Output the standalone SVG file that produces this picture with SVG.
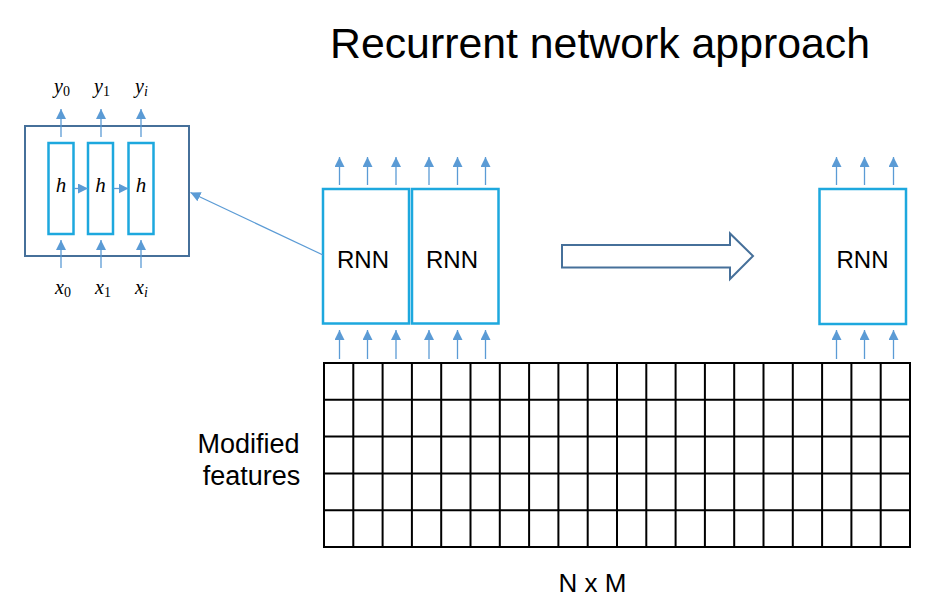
<svg xmlns="http://www.w3.org/2000/svg" width="937" height="607" viewBox="0 0 937 607">
<defs>
<style>
.sans{font-family:"Liberation Sans",Arial,sans-serif;fill:#000}
.math{font-family:"Liberation Serif","Times New Roman",serif;font-style:italic;fill:#000}
.sub{font-family:"Liberation Serif","Times New Roman",serif;font-style:normal;font-size:14px}
.subi{font-family:"Liberation Serif","Times New Roman",serif;font-style:italic;font-size:14px}
.rnn{fill:#fff;stroke:#1DA8DE;stroke-width:2.5}
.cell{fill:#fff;stroke:#1DA8DE;stroke-width:2.5}
.outer{fill:#fff;stroke:#46709A;stroke-width:2}
.arr{stroke:#5B9BD5;stroke-width:1.3;fill:none;marker-end:url(#ah)}
.grid{stroke:#000;stroke-width:2;fill:none}
</style>
<marker id="ah" markerUnits="userSpaceOnUse" markerWidth="10" markerHeight="10" refX="9" refY="4.5" orient="auto" viewBox="0 0 9 9">
<path d="M0,0 L9,4.5 L0,9 z" fill="#5B9BD5"/>
</marker>
</defs>
<rect width="937" height="607" fill="#fff"/>

<text class="sans" x="330" y="58" font-size="42" textLength="540" lengthAdjust="spacingAndGlyphs">Recurrent network approach</text>

<g id="detail-box">
<rect class="outer" x="25" y="126" width="164" height="130"/>
<rect class="cell" x="48.5" y="143" width="25" height="91"/>
<rect class="cell" x="88" y="143" width="25" height="91"/>
<rect class="cell" x="128.5" y="143" width="25" height="91"/>
<text class="math" x="61" y="192" font-size="21" text-anchor="middle">h</text>
<text class="math" x="100.5" y="192" font-size="21" text-anchor="middle">h</text>
<text class="math" x="141" y="192" font-size="21" text-anchor="middle">h</text>
<text class="math" x="54" y="93" font-size="20">y<tspan class="sub" dy="3">0</tspan></text>
<text class="math" x="94" y="93" font-size="20">y<tspan class="sub" dy="3">1</tspan></text>
<text class="math" x="135" y="93" font-size="20">y<tspan class="subi" dy="3">i</tspan></text>
<text class="math" x="55" y="294" font-size="20">x<tspan class="sub" dy="3">0</tspan></text>
<text class="math" x="95" y="294" font-size="20">x<tspan class="sub" dy="3">1</tspan></text>
<text class="math" x="135" y="294" font-size="20">x<tspan class="subi" dy="3">i</tspan></text>
</g>

<g id="rnn-1">
<rect class="rnn" x="323" y="189" width="86" height="134.5"/>
<text class="sans" x="363" y="267.5" font-size="24" text-anchor="middle">RNN</text>
</g>
<g id="rnn-2">
<rect class="rnn" x="412" y="189" width="86.5" height="134.5"/>
<text class="sans" x="452" y="267.5" font-size="24" text-anchor="middle">RNN</text>
</g>
<g id="rnn-3">
<rect class="rnn" x="819.5" y="189" width="86.5" height="135"/>
<text class="sans" x="862.5" y="267.5" font-size="24" text-anchor="middle">RNN</text>
</g>

<g id="big-arrow">
<polygon points="562,245 730,245 730,233.5 753,256 730,279 730,267.5 562,267.5" fill="#fff" stroke="#46709A" stroke-width="2" stroke-linejoin="miter"/>
</g>

<g id="feature-grid">
<rect class="grid" x="324" y="363" width="586" height="184"/>
<path class="grid" d="M353.3,363V547M382.6,363V547M411.9,363V547M441.2,363V547M470.5,363V547M499.8,363V547M529.1,363V547M558.4,363V547M587.7,363V547M617,363V547M646.3,363V547M675.6,363V547M704.9,363V547M734.2,363V547M763.5,363V547M792.8,363V547M822.1,363V547M851.4,363V547M880.7,363V547"/>
<path class="grid" d="M324,399.8H910M324,436.6H910M324,473.4H910M324,510.2H910"/>
<text class="sans" x="248.5" y="453" font-size="27" text-anchor="middle">Modified</text>
<text class="sans" x="251.5" y="485" font-size="27" text-anchor="middle">features</text>
<text class="sans" x="592.5" y="591.5" font-size="26" text-anchor="middle">N x M</text>
</g>

<g id="connectors">
<line class="arr" x1="323" y1="255" x2="190.5" y2="192.5"/>
<line class="arr" x1="61" y1="137" x2="61" y2="109"/>
<line class="arr" x1="101" y1="137" x2="101" y2="109"/>
<line class="arr" x1="141" y1="137" x2="141" y2="109"/>
<line class="arr" x1="61" y1="268" x2="61" y2="240"/>
<line class="arr" x1="101" y1="268" x2="101" y2="240"/>
<line class="arr" x1="141" y1="268" x2="141" y2="240"/>
<line class="arr" x1="74" y1="188.5" x2="88" y2="188.5"/>
<line class="arr" x1="113.5" y1="188.5" x2="128.5" y2="188.5"/>
<line class="arr" x1="339.5" y1="185" x2="339.5" y2="157"/>
<line class="arr" x1="367.5" y1="185" x2="367.5" y2="157"/>
<line class="arr" x1="396" y1="185" x2="396" y2="157"/>
<line class="arr" x1="429" y1="185" x2="429" y2="157"/>
<line class="arr" x1="457.5" y1="185" x2="457.5" y2="157"/>
<line class="arr" x1="485.5" y1="185" x2="485.5" y2="157"/>
<line class="arr" x1="836.5" y1="185" x2="836.5" y2="157"/>
<line class="arr" x1="864.5" y1="185" x2="864.5" y2="157"/>
<line class="arr" x1="893.5" y1="185" x2="893.5" y2="157"/>
<line class="arr" x1="339.5" y1="359" x2="339.5" y2="330"/>
<line class="arr" x1="367.5" y1="359" x2="367.5" y2="330"/>
<line class="arr" x1="396" y1="359" x2="396" y2="330"/>
<line class="arr" x1="429" y1="359" x2="429" y2="330"/>
<line class="arr" x1="457.5" y1="359" x2="457.5" y2="330"/>
<line class="arr" x1="485.5" y1="359" x2="485.5" y2="330"/>
<line class="arr" x1="836.5" y1="359" x2="836.5" y2="330"/>
<line class="arr" x1="864.5" y1="359" x2="864.5" y2="330"/>
<line class="arr" x1="893.5" y1="359" x2="893.5" y2="330"/>
</g>
</svg>
